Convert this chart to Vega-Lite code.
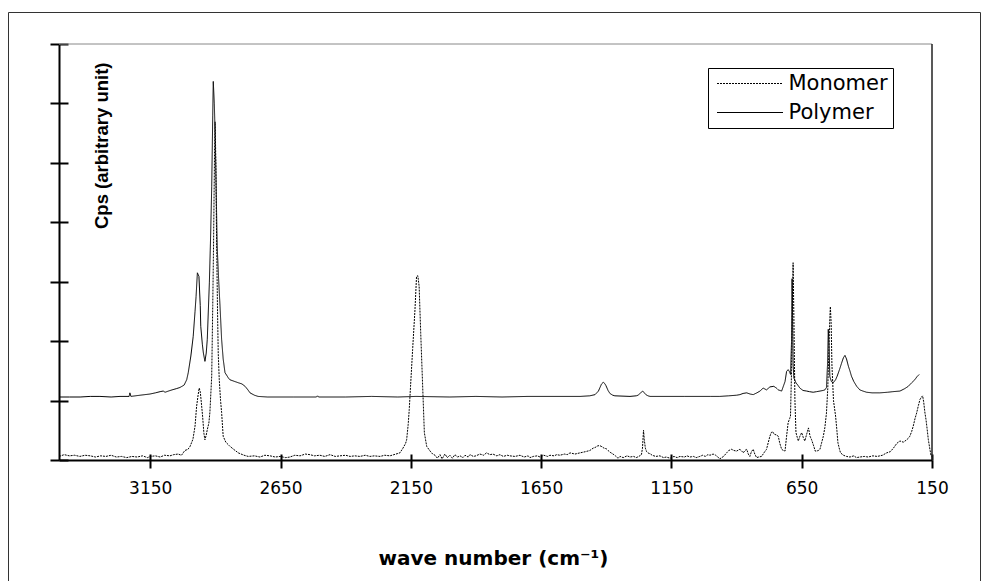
{
  "$schema": "https://vega.github.io/schema/vega-lite/v6.json",
  "width": 972,
  "height": 569,
  "autosize": {"type": "none"},
  "padding": {"left": 8, "top": 12, "right": 4, "bottom": 0},
  "background": "white",
  "config": {"view": {"stroke": "#333", "strokeWidth": 1}},
  "datasets": {
    "spectra": [
      {"wn":3500,"cps":0.06,"series":"Monomer"},{"wn":3480,"cps":0.09,"series":"Monomer"},{"wn":3460,"cps":0.07,"series":"Monomer"},{"wn":3440,"cps":0.08,"series":"Monomer"},{"wn":3420,"cps":0.06,"series":"Monomer"},{"wn":3400,"cps":0.08,"series":"Monomer"},{"wn":3380,"cps":0.07,"series":"Monomer"},{"wn":3360,"cps":0.05,"series":"Monomer"},{"wn":3340,"cps":0.07,"series":"Monomer"},{"wn":3320,"cps":0.06,"series":"Monomer"},{"wn":3300,"cps":0.08,"series":"Monomer"},{"wn":3280,"cps":0.05,"series":"Monomer"},{"wn":3260,"cps":0.06,"series":"Monomer"},{"wn":3240,"cps":0.04,"series":"Monomer"},{"wn":3220,"cps":0.06,"series":"Monomer"},{"wn":3200,"cps":0.05,"series":"Monomer"},{"wn":3180,"cps":0.07,"series":"Monomer"},{"wn":3160,"cps":0.04,"series":"Monomer"},{"wn":3150,"cps":0.06,"series":"Monomer"},{"wn":3130,"cps":0.07,"series":"Monomer"},{"wn":3112,"cps":0.05,"series":"Monomer"},{"wn":3095,"cps":0.08,"series":"Monomer"},{"wn":3074,"cps":0.07,"series":"Monomer"},{"wn":3060,"cps":0.09,"series":"Monomer"},{"wn":3043,"cps":0.1,"series":"Monomer"},{"wn":3030,"cps":0.08,"series":"Monomer"},{"wn":3017,"cps":0.16,"series":"Monomer"},{"wn":3005,"cps":0.18,"series":"Monomer"},{"wn":2997,"cps":0.23,"series":"Monomer"},{"wn":2986,"cps":0.35,"series":"Monomer"},{"wn":2978,"cps":0.57,"series":"Monomer"},{"wn":2972,"cps":0.9,"series":"Monomer"},{"wn":2966,"cps":1.1,"series":"Monomer"},{"wn":2962,"cps":1.21,"series":"Monomer"},{"wn":2958,"cps":1.15,"series":"Monomer"},{"wn":2955,"cps":1.02,"series":"Monomer"},{"wn":2949,"cps":0.74,"series":"Monomer"},{"wn":2944,"cps":0.45,"series":"Monomer"},{"wn":2940,"cps":0.34,"series":"Monomer"},{"wn":2935,"cps":0.42,"series":"Monomer"},{"wn":2931,"cps":0.51,"series":"Monomer"},{"wn":2925,"cps":0.62,"series":"Monomer"},{"wn":2921,"cps":0.8,"series":"Monomer"},{"wn":2914,"cps":1.41,"series":"Monomer"},{"wn":2910,"cps":2.6,"series":"Monomer"},{"wn":2907,"cps":3.6,"series":"Monomer"},{"wn":2903,"cps":5.2,"series":"Monomer"},{"wn":2901,"cps":5.69,"series":"Monomer"},{"wn":2898,"cps":5.0,"series":"Monomer"},{"wn":2896,"cps":4.0,"series":"Monomer"},{"wn":2892,"cps":2.6,"series":"Monomer"},{"wn":2889,"cps":1.8,"series":"Monomer"},{"wn":2885,"cps":1.35,"series":"Monomer"},{"wn":2880,"cps":1.0,"series":"Monomer"},{"wn":2876,"cps":0.8,"series":"Monomer"},{"wn":2870,"cps":0.4,"series":"Monomer"},{"wn":2860,"cps":0.3,"series":"Monomer"},{"wn":2844,"cps":0.23,"series":"Monomer"},{"wn":2830,"cps":0.18,"series":"Monomer"},{"wn":2812,"cps":0.12,"series":"Monomer"},{"wn":2790,"cps":0.08,"series":"Monomer"},{"wn":2774,"cps":0.06,"series":"Monomer"},{"wn":2750,"cps":0.07,"series":"Monomer"},{"wn":2729,"cps":0.05,"series":"Monomer"},{"wn":2710,"cps":0.08,"series":"Monomer"},{"wn":2690,"cps":0.07,"series":"Monomer"},{"wn":2670,"cps":0.05,"series":"Monomer"},{"wn":2652,"cps":0.06,"series":"Monomer"},{"wn":2630,"cps":0.04,"series":"Monomer"},{"wn":2614,"cps":0.05,"series":"Monomer"},{"wn":2595,"cps":0.08,"series":"Monomer"},{"wn":2575,"cps":0.07,"series":"Monomer"},{"wn":2555,"cps":0.1,"series":"Monomer"},{"wn":2537,"cps":0.09,"series":"Monomer"},{"wn":2520,"cps":0.07,"series":"Monomer"},{"wn":2499,"cps":0.08,"series":"Monomer"},{"wn":2480,"cps":0.06,"series":"Monomer"},{"wn":2460,"cps":0.09,"series":"Monomer"},{"wn":2440,"cps":0.06,"series":"Monomer"},{"wn":2422,"cps":0.07,"series":"Monomer"},{"wn":2400,"cps":0.08,"series":"Monomer"},{"wn":2383,"cps":0.06,"series":"Monomer"},{"wn":2365,"cps":0.07,"series":"Monomer"},{"wn":2345,"cps":0.06,"series":"Monomer"},{"wn":2325,"cps":0.08,"series":"Monomer"},{"wn":2307,"cps":0.06,"series":"Monomer"},{"wn":2290,"cps":0.07,"series":"Monomer"},{"wn":2268,"cps":0.06,"series":"Monomer"},{"wn":2250,"cps":0.08,"series":"Monomer"},{"wn":2230,"cps":0.07,"series":"Monomer"},{"wn":2215,"cps":0.09,"series":"Monomer"},{"wn":2207,"cps":0.1,"series":"Monomer"},{"wn":2192,"cps":0.12,"series":"Monomer"},{"wn":2180,"cps":0.2,"series":"Monomer"},{"wn":2170,"cps":0.28,"series":"Monomer"},{"wn":2166,"cps":0.34,"series":"Monomer"},{"wn":2160,"cps":0.6,"series":"Monomer"},{"wn":2156,"cps":0.85,"series":"Monomer"},{"wn":2151,"cps":1.24,"series":"Monomer"},{"wn":2143,"cps":1.86,"series":"Monomer"},{"wn":2134,"cps":2.53,"series":"Monomer"},{"wn":2128,"cps":3.09,"series":"Monomer"},{"wn":2123,"cps":3.1,"series":"Monomer"},{"wn":2118,"cps":2.92,"series":"Monomer"},{"wn":2112,"cps":2.14,"series":"Monomer"},{"wn":2105,"cps":1.3,"series":"Monomer"},{"wn":2098,"cps":0.46,"series":"Monomer"},{"wn":2089,"cps":0.23,"series":"Monomer"},{"wn":2076,"cps":0.15,"series":"Monomer"},{"wn":2066,"cps":0.1,"series":"Monomer"},{"wn":2057,"cps":0.08,"series":"Monomer"},{"wn":2048,"cps":0.03,"series":"Monomer"},{"wn":2038,"cps":0.09,"series":"Monomer"},{"wn":2030,"cps":0.02,"series":"Monomer"},{"wn":2019,"cps":0.1,"series":"Monomer"},{"wn":2010,"cps":0.04,"series":"Monomer"},{"wn":2000,"cps":0.08,"series":"Monomer"},{"wn":1990,"cps":0.03,"series":"Monomer"},{"wn":1981,"cps":0.09,"series":"Monomer"},{"wn":1970,"cps":0.05,"series":"Monomer"},{"wn":1961,"cps":0.07,"series":"Monomer"},{"wn":1950,"cps":0.04,"series":"Monomer"},{"wn":1942,"cps":0.08,"series":"Monomer"},{"wn":1930,"cps":0.05,"series":"Monomer"},{"wn":1923,"cps":0.09,"series":"Monomer"},{"wn":1910,"cps":0.06,"series":"Monomer"},{"wn":1900,"cps":0.07,"series":"Monomer"},{"wn":1885,"cps":0.1,"series":"Monomer"},{"wn":1870,"cps":0.08,"series":"Monomer"},{"wn":1860,"cps":0.12,"series":"Monomer"},{"wn":1846,"cps":0.09,"series":"Monomer"},{"wn":1835,"cps":0.1,"series":"Monomer"},{"wn":1820,"cps":0.07,"series":"Monomer"},{"wn":1808,"cps":0.09,"series":"Monomer"},{"wn":1795,"cps":0.06,"series":"Monomer"},{"wn":1780,"cps":0.08,"series":"Monomer"},{"wn":1770,"cps":0.07,"series":"Monomer"},{"wn":1750,"cps":0.06,"series":"Monomer"},{"wn":1731,"cps":0.08,"series":"Monomer"},{"wn":1715,"cps":0.05,"series":"Monomer"},{"wn":1700,"cps":0.07,"series":"Monomer"},{"wn":1693,"cps":0.04,"series":"Monomer"},{"wn":1680,"cps":0.06,"series":"Monomer"},{"wn":1665,"cps":0.07,"series":"Monomer"},{"wn":1654,"cps":0.05,"series":"Monomer"},{"wn":1640,"cps":0.08,"series":"Monomer"},{"wn":1625,"cps":0.06,"series":"Monomer"},{"wn":1616,"cps":0.08,"series":"Monomer"},{"wn":1600,"cps":0.07,"series":"Monomer"},{"wn":1590,"cps":0.09,"series":"Monomer"},{"wn":1578,"cps":0.08,"series":"Monomer"},{"wn":1560,"cps":0.1,"series":"Monomer"},{"wn":1550,"cps":0.09,"series":"Monomer"},{"wn":1539,"cps":0.12,"series":"Monomer"},{"wn":1520,"cps":0.1,"series":"Monomer"},{"wn":1501,"cps":0.12,"series":"Monomer"},{"wn":1480,"cps":0.14,"series":"Monomer"},{"wn":1463,"cps":0.16,"series":"Monomer"},{"wn":1450,"cps":0.2,"series":"Monomer"},{"wn":1443,"cps":0.21,"series":"Monomer"},{"wn":1432,"cps":0.24,"series":"Monomer"},{"wn":1424,"cps":0.24,"series":"Monomer"},{"wn":1415,"cps":0.22,"series":"Monomer"},{"wn":1409,"cps":0.2,"series":"Monomer"},{"wn":1400,"cps":0.19,"series":"Monomer"},{"wn":1393,"cps":0.16,"series":"Monomer"},{"wn":1385,"cps":0.13,"series":"Monomer"},{"wn":1374,"cps":0.1,"series":"Monomer"},{"wn":1365,"cps":0.07,"series":"Monomer"},{"wn":1355,"cps":0.03,"series":"Monomer"},{"wn":1347,"cps":0.06,"series":"Monomer"},{"wn":1335,"cps":0.04,"series":"Monomer"},{"wn":1320,"cps":0.07,"series":"Monomer"},{"wn":1309,"cps":0.05,"series":"Monomer"},{"wn":1295,"cps":0.06,"series":"Monomer"},{"wn":1285,"cps":0.04,"series":"Monomer"},{"wn":1275,"cps":0.06,"series":"Monomer"},{"wn":1265,"cps":0.09,"series":"Monomer"},{"wn":1261,"cps":0.2,"series":"Monomer"},{"wn":1257,"cps":0.5,"series":"Monomer"},{"wn":1254,"cps":0.34,"series":"Monomer"},{"wn":1250,"cps":0.2,"series":"Monomer"},{"wn":1245,"cps":0.14,"series":"Monomer"},{"wn":1240,"cps":0.12,"series":"Monomer"},{"wn":1230,"cps":0.1,"series":"Monomer"},{"wn":1224,"cps":0.08,"series":"Monomer"},{"wn":1210,"cps":0.06,"series":"Monomer"},{"wn":1194,"cps":0.07,"series":"Monomer"},{"wn":1180,"cps":0.04,"series":"Monomer"},{"wn":1170,"cps":0.05,"series":"Monomer"},{"wn":1155,"cps":0.03,"series":"Monomer"},{"wn":1140,"cps":0.06,"series":"Monomer"},{"wn":1128,"cps":0.04,"series":"Monomer"},{"wn":1117,"cps":0.06,"series":"Monomer"},{"wn":1100,"cps":0.05,"series":"Monomer"},{"wn":1090,"cps":0.07,"series":"Monomer"},{"wn":1079,"cps":0.05,"series":"Monomer"},{"wn":1065,"cps":0.06,"series":"Monomer"},{"wn":1055,"cps":0.04,"series":"Monomer"},{"wn":1041,"cps":0.06,"series":"Monomer"},{"wn":1030,"cps":0.08,"series":"Monomer"},{"wn":1020,"cps":0.06,"series":"Monomer"},{"wn":1010,"cps":0.09,"series":"Monomer"},{"wn":1002,"cps":0.08,"series":"Monomer"},{"wn":990,"cps":0.1,"series":"Monomer"},{"wn":980,"cps":0.08,"series":"Monomer"},{"wn":972,"cps":0.05,"series":"Monomer"},{"wn":964,"cps":0.02,"series":"Monomer"},{"wn":950,"cps":0.06,"series":"Monomer"},{"wn":938,"cps":0.12,"series":"Monomer"},{"wn":930,"cps":0.16,"series":"Monomer"},{"wn":919,"cps":0.18,"series":"Monomer"},{"wn":910,"cps":0.16,"series":"Monomer"},{"wn":900,"cps":0.15,"series":"Monomer"},{"wn":892,"cps":0.17,"series":"Monomer"},{"wn":887,"cps":0.18,"series":"Monomer"},{"wn":880,"cps":0.15,"series":"Monomer"},{"wn":874,"cps":0.12,"series":"Monomer"},{"wn":868,"cps":0.16,"series":"Monomer"},{"wn":861,"cps":0.18,"series":"Monomer"},{"wn":855,"cps":0.1,"series":"Monomer"},{"wn":849,"cps":0.06,"series":"Monomer"},{"wn":843,"cps":0.14,"series":"Monomer"},{"wn":836,"cps":0.18,"series":"Monomer"},{"wn":830,"cps":0.1,"series":"Monomer"},{"wn":823,"cps":0.04,"series":"Monomer"},{"wn":815,"cps":0.05,"series":"Monomer"},{"wn":804,"cps":0.06,"series":"Monomer"},{"wn":795,"cps":0.12,"series":"Monomer"},{"wn":785,"cps":0.18,"series":"Monomer"},{"wn":778,"cps":0.3,"series":"Monomer"},{"wn":772,"cps":0.4,"series":"Monomer"},{"wn":767,"cps":0.46,"series":"Monomer"},{"wn":762,"cps":0.48,"series":"Monomer"},{"wn":757,"cps":0.44,"series":"Monomer"},{"wn":753,"cps":0.43,"series":"Monomer"},{"wn":746,"cps":0.42,"series":"Monomer"},{"wn":740,"cps":0.4,"series":"Monomer"},{"wn":734,"cps":0.28,"series":"Monomer"},{"wn":727,"cps":0.18,"series":"Monomer"},{"wn":720,"cps":0.16,"series":"Monomer"},{"wn":714,"cps":0.15,"series":"Monomer"},{"wn":708,"cps":0.4,"series":"Monomer"},{"wn":702,"cps":0.63,"series":"Monomer"},{"wn":696,"cps":0.7,"series":"Monomer"},{"wn":693,"cps":0.74,"series":"Monomer"},{"wn":689,"cps":1.5,"series":"Monomer"},{"wn":686,"cps":2.6,"series":"Monomer"},{"wn":683,"cps":3.32,"series":"Monomer"},{"wn":680,"cps":2.4,"series":"Monomer"},{"wn":676,"cps":1.0,"series":"Monomer"},{"wn":672,"cps":0.46,"series":"Monomer"},{"wn":667,"cps":0.38,"series":"Monomer"},{"wn":663,"cps":0.32,"series":"Monomer"},{"wn":657,"cps":0.4,"series":"Monomer"},{"wn":650,"cps":0.46,"series":"Monomer"},{"wn":644,"cps":0.38,"series":"Monomer"},{"wn":638,"cps":0.32,"series":"Monomer"},{"wn":630,"cps":0.45,"series":"Monomer"},{"wn":624,"cps":0.54,"series":"Monomer"},{"wn":618,"cps":0.4,"series":"Monomer"},{"wn":612,"cps":0.34,"series":"Monomer"},{"wn":605,"cps":0.25,"series":"Monomer"},{"wn":598,"cps":0.15,"series":"Monomer"},{"wn":593,"cps":0.15,"series":"Monomer"},{"wn":586,"cps":0.16,"series":"Monomer"},{"wn":580,"cps":0.18,"series":"Monomer"},{"wn":573,"cps":0.3,"series":"Monomer"},{"wn":567,"cps":0.4,"series":"Monomer"},{"wn":561,"cps":0.55,"series":"Monomer"},{"wn":555,"cps":0.79,"series":"Monomer"},{"wn":550,"cps":1.2,"series":"Monomer"},{"wn":546,"cps":1.8,"series":"Monomer"},{"wn":542,"cps":2.4,"series":"Monomer"},{"wn":540,"cps":2.58,"series":"Monomer"},{"wn":537,"cps":2.3,"series":"Monomer"},{"wn":534,"cps":1.6,"series":"Monomer"},{"wn":528,"cps":1.0,"series":"Monomer"},{"wn":520,"cps":0.74,"series":"Monomer"},{"wn":515,"cps":0.5,"series":"Monomer"},{"wn":511,"cps":0.29,"series":"Monomer"},{"wn":505,"cps":0.18,"series":"Monomer"},{"wn":501,"cps":0.12,"series":"Monomer"},{"wn":490,"cps":0.08,"series":"Monomer"},{"wn":478,"cps":0.06,"series":"Monomer"},{"wn":465,"cps":0.05,"series":"Monomer"},{"wn":450,"cps":0.07,"series":"Monomer"},{"wn":440,"cps":0.04,"series":"Monomer"},{"wn":427,"cps":0.05,"series":"Monomer"},{"wn":410,"cps":0.06,"series":"Monomer"},{"wn":395,"cps":0.05,"series":"Monomer"},{"wn":377,"cps":0.07,"series":"Monomer"},{"wn":360,"cps":0.06,"series":"Monomer"},{"wn":340,"cps":0.08,"series":"Monomer"},{"wn":324,"cps":0.12,"series":"Monomer"},{"wn":310,"cps":0.14,"series":"Monomer"},{"wn":298,"cps":0.2,"series":"Monomer"},{"wn":285,"cps":0.28,"series":"Monomer"},{"wn":273,"cps":0.32,"series":"Monomer"},{"wn":260,"cps":0.3,"series":"Monomer"},{"wn":247,"cps":0.34,"series":"Monomer"},{"wn":240,"cps":0.37,"series":"Monomer"},{"wn":235,"cps":0.4,"series":"Monomer"},{"wn":228,"cps":0.48,"series":"Monomer"},{"wn":222,"cps":0.57,"series":"Monomer"},{"wn":215,"cps":0.7,"series":"Monomer"},{"wn":209,"cps":0.79,"series":"Monomer"},{"wn":202,"cps":0.92,"series":"Monomer"},{"wn":196,"cps":1.02,"series":"Monomer"},{"wn":190,"cps":1.06,"series":"Monomer"},{"wn":186,"cps":1.08,"series":"Monomer"},{"wn":182,"cps":0.98,"series":"Monomer"},{"wn":177,"cps":0.79,"series":"Monomer"},{"wn":173,"cps":0.68,"series":"Monomer"},{"wn":170,"cps":0.57,"series":"Monomer"},{"wn":166,"cps":0.42,"series":"Monomer"},{"wn":164,"cps":0.34,"series":"Monomer"},{"wn":158,"cps":0.18,"series":"Monomer"},{"wn":154,"cps":0.08,"series":"Monomer"},{"wn":151,"cps":0.06,"series":"Monomer"},
      {"wn":3500,"cps":1.06,"series":"Polymer"},{"wn":3460,"cps":1.06,"series":"Polymer"},{"wn":3419,"cps":1.06,"series":"Polymer"},{"wn":3380,"cps":1.07,"series":"Polymer"},{"wn":3343,"cps":1.07,"series":"Polymer"},{"wn":3300,"cps":1.06,"series":"Polymer"},{"wn":3266,"cps":1.07,"series":"Polymer"},{"wn":3231,"cps":1.07,"series":"Polymer"},{"wn":3228,"cps":1.13,"series":"Polymer"},{"wn":3224,"cps":1.07,"series":"Polymer"},{"wn":3189,"cps":1.09,"series":"Polymer"},{"wn":3170,"cps":1.1,"series":"Polymer"},{"wn":3151,"cps":1.11,"series":"Polymer"},{"wn":3130,"cps":1.13,"series":"Polymer"},{"wn":3112,"cps":1.15,"series":"Polymer"},{"wn":3100,"cps":1.16,"series":"Polymer"},{"wn":3093,"cps":1.14,"series":"Polymer"},{"wn":3080,"cps":1.16,"series":"Polymer"},{"wn":3066,"cps":1.18,"series":"Polymer"},{"wn":3050,"cps":1.2,"series":"Polymer"},{"wn":3036,"cps":1.22,"series":"Polymer"},{"wn":3028,"cps":1.24,"series":"Polymer"},{"wn":3020,"cps":1.26,"series":"Polymer"},{"wn":3010,"cps":1.35,"series":"Polymer"},{"wn":3004,"cps":1.47,"series":"Polymer"},{"wn":2994,"cps":1.75,"series":"Polymer"},{"wn":2985,"cps":2.08,"series":"Polymer"},{"wn":2978,"cps":2.5,"series":"Polymer"},{"wn":2974,"cps":2.75,"series":"Polymer"},{"wn":2969,"cps":3.15,"series":"Polymer"},{"wn":2963,"cps":3.09,"series":"Polymer"},{"wn":2958,"cps":2.6,"series":"Polymer"},{"wn":2956,"cps":2.25,"series":"Polymer"},{"wn":2950,"cps":1.95,"series":"Polymer"},{"wn":2946,"cps":1.8,"series":"Polymer"},{"wn":2940,"cps":1.66,"series":"Polymer"},{"wn":2935,"cps":1.8,"series":"Polymer"},{"wn":2931,"cps":2.03,"series":"Polymer"},{"wn":2923,"cps":2.98,"series":"Polymer"},{"wn":2918,"cps":3.8,"series":"Polymer"},{"wn":2914,"cps":4.6,"series":"Polymer"},{"wn":2910,"cps":5.8,"series":"Polymer"},{"wn":2908,"cps":6.37,"series":"Polymer"},{"wn":2904,"cps":6.0,"series":"Polymer"},{"wn":2901,"cps":5.5,"series":"Polymer"},{"wn":2897,"cps":4.6,"series":"Polymer"},{"wn":2893,"cps":3.59,"series":"Polymer"},{"wn":2887,"cps":3.0,"series":"Polymer"},{"wn":2882,"cps":2.58,"series":"Polymer"},{"wn":2876,"cps":2.03,"series":"Polymer"},{"wn":2870,"cps":1.7,"series":"Polymer"},{"wn":2863,"cps":1.47,"series":"Polymer"},{"wn":2850,"cps":1.38,"series":"Polymer"},{"wn":2844,"cps":1.35,"series":"Polymer"},{"wn":2825,"cps":1.32,"series":"Polymer"},{"wn":2812,"cps":1.3,"series":"Polymer"},{"wn":2798,"cps":1.28,"series":"Polymer"},{"wn":2786,"cps":1.24,"series":"Polymer"},{"wn":2775,"cps":1.18,"series":"Polymer"},{"wn":2767,"cps":1.13,"series":"Polymer"},{"wn":2750,"cps":1.09,"series":"Polymer"},{"wn":2736,"cps":1.07,"series":"Polymer"},{"wn":2700,"cps":1.06,"series":"Polymer"},{"wn":2600,"cps":1.06,"series":"Polymer"},{"wn":2512,"cps":1.06,"series":"Polymer"},{"wn":2508,"cps":1.08,"series":"Polymer"},{"wn":2504,"cps":1.06,"series":"Polymer"},{"wn":2400,"cps":1.06,"series":"Polymer"},{"wn":2300,"cps":1.07,"series":"Polymer"},{"wn":2200,"cps":1.06,"series":"Polymer"},{"wn":2130,"cps":1.07,"series":"Polymer"},{"wn":2000,"cps":1.06,"series":"Polymer"},{"wn":1900,"cps":1.07,"series":"Polymer"},{"wn":1800,"cps":1.06,"series":"Polymer"},{"wn":1700,"cps":1.07,"series":"Polymer"},{"wn":1600,"cps":1.07,"series":"Polymer"},{"wn":1500,"cps":1.07,"series":"Polymer"},{"wn":1463,"cps":1.08,"series":"Polymer"},{"wn":1443,"cps":1.1,"series":"Polymer"},{"wn":1430,"cps":1.16,"series":"Polymer"},{"wn":1424,"cps":1.22,"series":"Polymer"},{"wn":1418,"cps":1.28,"series":"Polymer"},{"wn":1411,"cps":1.31,"series":"Polymer"},{"wn":1405,"cps":1.28,"series":"Polymer"},{"wn":1401,"cps":1.25,"series":"Polymer"},{"wn":1393,"cps":1.17,"series":"Polymer"},{"wn":1386,"cps":1.12,"series":"Polymer"},{"wn":1375,"cps":1.09,"series":"Polymer"},{"wn":1367,"cps":1.08,"series":"Polymer"},{"wn":1309,"cps":1.07,"series":"Polymer"},{"wn":1285,"cps":1.08,"series":"Polymer"},{"wn":1278,"cps":1.09,"series":"Polymer"},{"wn":1268,"cps":1.13,"series":"Polymer"},{"wn":1260,"cps":1.16,"series":"Polymer"},{"wn":1254,"cps":1.13,"series":"Polymer"},{"wn":1248,"cps":1.1,"series":"Polymer"},{"wn":1240,"cps":1.08,"series":"Polymer"},{"wn":1232,"cps":1.07,"series":"Polymer"},{"wn":1100,"cps":1.07,"series":"Polymer"},{"wn":1000,"cps":1.07,"series":"Polymer"},{"wn":964,"cps":1.07,"series":"Polymer"},{"wn":930,"cps":1.08,"series":"Polymer"},{"wn":900,"cps":1.09,"series":"Polymer"},{"wn":887,"cps":1.1,"series":"Polymer"},{"wn":875,"cps":1.12,"series":"Polymer"},{"wn":861,"cps":1.13,"series":"Polymer"},{"wn":848,"cps":1.11,"series":"Polymer"},{"wn":836,"cps":1.1,"series":"Polymer"},{"wn":822,"cps":1.13,"series":"Polymer"},{"wn":810,"cps":1.16,"series":"Polymer"},{"wn":798,"cps":1.21,"series":"Polymer"},{"wn":785,"cps":1.18,"series":"Polymer"},{"wn":772,"cps":1.23,"series":"Polymer"},{"wn":757,"cps":1.24,"series":"Polymer"},{"wn":747,"cps":1.21,"series":"Polymer"},{"wn":740,"cps":1.18,"series":"Polymer"},{"wn":727,"cps":1.16,"series":"Polymer"},{"wn":714,"cps":1.32,"series":"Polymer"},{"wn":708,"cps":1.49,"series":"Polymer"},{"wn":702,"cps":1.52,"series":"Polymer"},{"wn":696,"cps":1.48,"series":"Polymer"},{"wn":693,"cps":1.44,"series":"Polymer"},{"wn":689,"cps":2.0,"series":"Polymer"},{"wn":687,"cps":3.05,"series":"Polymer"},{"wn":685,"cps":2.4,"series":"Polymer"},{"wn":683,"cps":1.6,"series":"Polymer"},{"wn":680,"cps":1.38,"series":"Polymer"},{"wn":672,"cps":1.3,"series":"Polymer"},{"wn":665,"cps":1.26,"series":"Polymer"},{"wn":657,"cps":1.21,"series":"Polymer"},{"wn":645,"cps":1.17,"series":"Polymer"},{"wn":631,"cps":1.16,"series":"Polymer"},{"wn":620,"cps":1.15,"series":"Polymer"},{"wn":606,"cps":1.14,"series":"Polymer"},{"wn":593,"cps":1.15,"series":"Polymer"},{"wn":580,"cps":1.16,"series":"Polymer"},{"wn":568,"cps":1.17,"series":"Polymer"},{"wn":561,"cps":1.18,"series":"Polymer"},{"wn":555,"cps":1.22,"series":"Polymer"},{"wn":551,"cps":1.6,"series":"Polymer"},{"wn":548,"cps":2.2,"series":"Polymer"},{"wn":545,"cps":1.9,"series":"Polymer"},{"wn":542,"cps":1.4,"series":"Polymer"},{"wn":536,"cps":1.32,"series":"Polymer"},{"wn":529,"cps":1.3,"series":"Polymer"},{"wn":520,"cps":1.35,"series":"Polymer"},{"wn":514,"cps":1.41,"series":"Polymer"},{"wn":505,"cps":1.52,"series":"Polymer"},{"wn":497,"cps":1.63,"series":"Polymer"},{"wn":490,"cps":1.72,"series":"Polymer"},{"wn":484,"cps":1.76,"series":"Polymer"},{"wn":478,"cps":1.7,"series":"Polymer"},{"wn":471,"cps":1.58,"series":"Polymer"},{"wn":465,"cps":1.5,"series":"Polymer"},{"wn":459,"cps":1.41,"series":"Polymer"},{"wn":450,"cps":1.32,"series":"Polymer"},{"wn":439,"cps":1.24,"series":"Polymer"},{"wn":427,"cps":1.18,"series":"Polymer"},{"wn":415,"cps":1.16,"series":"Polymer"},{"wn":401,"cps":1.14,"series":"Polymer"},{"wn":380,"cps":1.13,"series":"Polymer"},{"wn":350,"cps":1.13,"series":"Polymer"},{"wn":320,"cps":1.14,"series":"Polymer"},{"wn":300,"cps":1.15,"series":"Polymer"},{"wn":273,"cps":1.16,"series":"Polymer"},{"wn":255,"cps":1.2,"series":"Polymer"},{"wn":241,"cps":1.24,"series":"Polymer"},{"wn":228,"cps":1.3,"series":"Polymer"},{"wn":216,"cps":1.35,"series":"Polymer"},{"wn":208,"cps":1.4,"series":"Polymer"},{"wn":199,"cps":1.44,"series":"Polymer"}
    ]
  },
  "layer": [
    {
      "data": {"values": [{}]},
      "mark": {"type": "rule", "color": "#888888", "strokeWidth": 1},
      "encoding": {
        "x": {"datum": 3500, "type": "quantitative"},
        "x2": {"datum": 150},
        "y": {"datum": 7, "type": "quantitative"}
      }
    },
    {
      "data": {"values": [{}]},
      "mark": {"type": "rule", "color": "#222222", "strokeWidth": 1.5},
      "encoding": {
        "x": {"datum": 150, "type": "quantitative"},
        "y": {"datum": 0, "type": "quantitative"},
        "y2": {"datum": 7}
      }
    },
    {
      "data": {"name": "spectra"},
      "mark": {"type": "line", "strokeWidth": 1, "color": "#000000"},
      "encoding": {
        "x": {
          "field": "wn", "type": "quantitative",
          "scale": {"domain": [3500, 150], "range": [51, 924], "nice": false, "zero": false},
          "axis": {
            "orient": "bottom", "offset": -121,
            "values": [3150, 2650, 2150, 1650, 1150, 650, 150],
            "format": "d",
            "tickSize": 8, "tickWidth": 2, "tickColor": "#000000",
            "domainWidth": 2, "domainColor": "#000000",
            "labelFont": "DejaVu Sans", "labelFontSize": 17, "labelColor": "#000000",
            "labelPadding": 12, "labelFlush": false, "labelOverlap": false,
            "grid": true, "gridColor": "#000000", "gridWidth": 2, "gridOpacity": 1, "gridDash": [0, 321, 6, 3000],
            "title": "wave number (cm⁻¹)",
            "titleFont": "DejaVu Sans", "titleFontSize": 20, "titleFontWeight": "bold", "titleColor": "#000000",
            "titleX": 485, "titleY": 104, "titleAlign": "center", "titleBaseline": "alphabetic"
          }
        },
        "y": {
          "field": "cps", "type": "quantitative",
          "scale": {"domain": [0, 7], "range": [448, 32], "nice": false, "zero": false},
          "axis": {
            "orient": "left", "offset": -51,
            "values": [0, 1, 2, 3, 4, 5, 6, 7],
            "tickSize": 9, "tickWidth": 2, "tickColor": "#000000",
            "domainWidth": 2, "domainColor": "#000000",
            "labels": false,
            "grid": true, "gridColor": "#000000", "gridWidth": 2, "gridOpacity": 1, "gridDash": [9, 3000],
            "title": "Cps (arbitrary unit)",
            "titleFont": "Liberation Sans", "titleFontSize": 18.5, "titleFontWeight": "bold", "titleColor": "#000000",
            "titleAngle": 270, "titleX": 33, "titleY": 50, "titleAlign": "right", "titleBaseline": "top"
          }
        },
        "strokeDash": {
          "field": "series", "type": "nominal",
          "scale": {"domain": ["Monomer", "Polymer"], "range": [[2, 1], [1, 0]]},
          "legend": {
            "orient": "none", "legendX": 700, "legendY": 56,
            "title": null,
            "strokeColor": "#000000", "fillColor": "#ffffff", "padding": 5,
            "symbolType": "M-16.5,0H16.5", "symbolSize": 16,
            "symbolStrokeWidth": 1, "symbolStrokeColor": "#000000",
            "symbolOffset": 26.5, "labelOffset": 28,
            "labelFont": "DejaVu Sans", "labelFontSize": 21, "labelColor": "#000000",
            "rowPadding": 7
          }
        }
      }
    }
  ]
}
